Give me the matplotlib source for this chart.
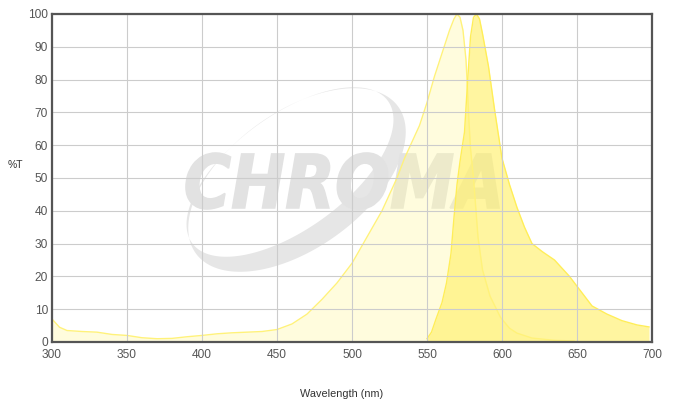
import numpy as np
import matplotlib
matplotlib.use('Agg')
import matplotlib.pyplot as plt
from matplotlib.path import Path
from matplotlib.patches import PathPatch
from matplotlib.textpath import TextPath
from matplotlib.font_manager import FontProperties
from matplotlib.transforms import IdentityTransform, Affine2D

plt.rcParams['font.family'] = ['Liberation Sans', 'DejaVu Sans']

# Excitation spectrum (pale)
ex_wl = [300, 305, 310, 320, 330, 340, 350, 360, 370, 380, 390, 400, 410, 420, 430, 440,
         450, 460, 470, 480, 490, 500, 510, 520, 530, 535, 540, 545, 550, 555, 560, 565,
         568, 570, 572, 574, 576, 577, 578, 579, 581, 584, 587, 592, 599, 605, 610, 620,
         635, 648]
ex_t = [7.0, 4.5, 3.5, 3.2, 3.0, 2.3, 2.0, 1.3, 1.0, 1.1, 1.6, 2.0, 2.5, 2.8, 3.0, 3.2,
        3.8, 5.5, 8.5, 13, 18, 24, 32, 40, 50, 56, 61, 66, 73, 81, 88, 95,
        98.5, 100, 99, 95, 86, 77, 67, 59, 50, 32, 22, 14, 7.5, 4.2, 2.7, 1.2,
        0.5, 0.3]

# Emission spectrum (stronger yellow)
em_wl = [550, 553, 556, 560, 563, 566, 568, 570, 572, 575, 577, 579, 581, 583, 585, 587,
         591, 595, 600, 605, 610, 615, 620, 627, 635, 641, 645, 650, 655, 660, 670, 680,
         690, 698]
em_t = [1.0, 3.0, 7.0, 12, 18, 27, 38, 48, 55, 64, 79, 93, 99, 100, 98.5, 94,
        84, 71, 56, 48, 41, 35, 30, 27.5, 25, 22, 20, 17, 14, 11, 8.5, 6.5,
        5.2, 4.6]

x_ticks = [300, 350, 400, 450, 500, 550, 600, 650, 700]
y_ticks = [0, 10, 20, 30, 40, 50, 60, 70, 80, 90, 100]

W, H = 678, 416
fig = plt.figure(figsize=(W / 100, H / 100), dpi=100)
ax = fig.add_axes([52 / W, 1 - 342 / H, 600 / W, 328 / H])

# --- watermark (decoration) in pixel coords ---
def ellipse_pts(cx, cy, a, b, ang_deg, n=200, reverse=False):
    t = np.linspace(0, 2 * np.pi, n)
    if reverse:
        t = t[::-1]
    ang = np.deg2rad(ang_deg)
    x = a * np.cos(t)
    y = b * np.sin(t)
    xr = x * np.cos(ang) - y * np.sin(ang)
    yr = x * np.sin(ang) + y * np.cos(ang)
    return np.column_stack([cx + xr, (H - cy) + yr])

outer = ellipse_pts(297, 180, 125, 68, 36)
inner = ellipse_pts(297 - 7, 180 - 8, 121, 57, 36, reverse=True)
verts = np.vstack([outer, inner])
codes = ([Path.MOVETO] + [Path.LINETO] * (len(outer) - 2) + [Path.CLOSEPOLY]) * 2
swoosh = PathPatch(Path(verts, codes), facecolor='#e6e6e6', edgecolor='none',
                   transform=IdentityTransform(), zorder=0.7)
ax.add_patch(swoosh)

fp = FontProperties(family='DejaVu Sans', weight='bold', style='oblique')
tp = TextPath((0, 0), 'CHROMA', prop=fp, size=100)
ext = tp.get_extents()
x0, y0, x1, y1 = 186, 153, 499, 209
sx = (x1 - x0) / ext.width
sy = (y1 - y0) / ext.height
tr = Affine2D().translate(-ext.x0, -ext.y0).scale(sx, sy).translate(x0, H - y1)
tpath = tr.transform_path(tp)
ax.add_patch(PathPatch(tpath, facecolor='#e2e2e2', edgecolor='#e2e2e2', linewidth=1.2,
                       transform=IdentityTransform(), zorder=0.8))

# --- spectra ---
ax.fill_between(ex_wl, ex_t, 0, color='#fff9a8', alpha=0.38, linewidth=0, zorder=1)
ax.plot(ex_wl, ex_t, color='#fff27a', lw=1.0, zorder=2)
ax.fill_between(em_wl, em_t, 0, color='#fff06e', alpha=0.65, linewidth=0, zorder=1.1)
ax.plot(em_wl, em_t, color='#ffee58', lw=1.0, zorder=2)

ax.set_xlim(300, 700)
ax.set_ylim(0, 100)
ax.set_xticks(x_ticks)
ax.set_yticks(y_ticks)
ax.set_axisbelow(False)
ax.grid(True, color='#cccccc', lw=0.8)
ax.tick_params(length=0, colors='#555555', labelsize=8.6)
ax.tick_params(axis='x', pad=5)
ax.tick_params(axis='y', pad=3)
for s in ax.spines.values():
    s.set_color('#555555')
    s.set_linewidth(1.6)
    s.set_zorder(3)

fig.text(15 / W, 1 - 165 / H, '%T', fontsize=7.5, ha='center', va='center', color='#333333')
fig.text(342 / W, 1 - 394 / H, 'Wavelength (nm)', fontsize=7.8, ha='center', va='center',
         color='#333333')

fig.savefig('out.png', dpi=100)
